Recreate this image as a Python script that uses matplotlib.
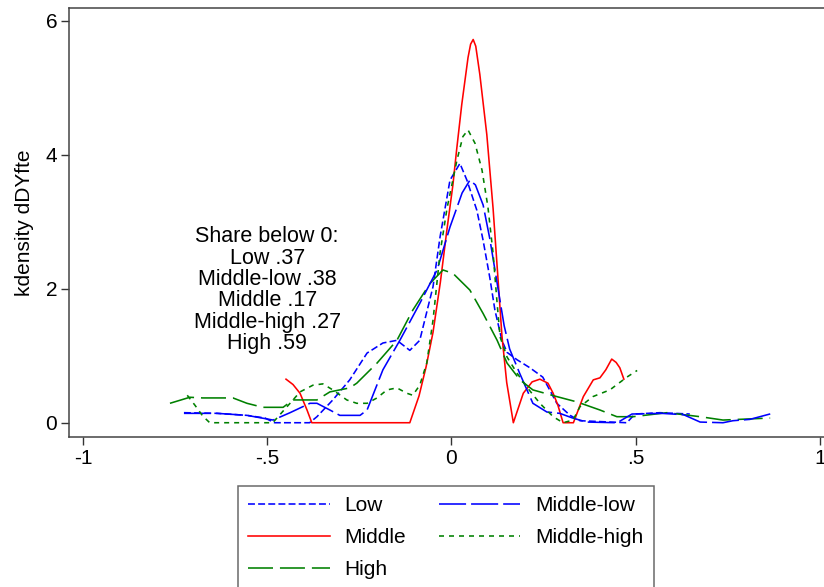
import numpy as np
import matplotlib
matplotlib.use('Agg')
import matplotlib.pyplot as plt

plt.rcParams['font.family'] = ['Liberation Sans', 'DejaVu Sans']
plt.rcParams['lines.scale_dashes'] = False

###### kernel density curves ######
low_x = [-0.726, -0.636, -0.555, -0.506, -0.48, -0.385, -0.365, -0.322, -0.276, -0.229,
         -0.186, -0.148, -0.113, -0.086, -0.05, -0.031, -0.004, 0.023, 0.042, 0.069,
         0.086, 0.104, 0.118, 0.137, 0.151, 0.178, 0.213, 0.248, 0.286, 0.322, 0.349,
         0.476, 0.498, 0.566, 0.647]
low_y = [0.15, 0.14, 0.11, 0.07, 0.0, 0.0, 0.09, 0.34, 0.64, 1.04,
         1.19, 1.23, 1.08, 1.23, 2.03, 2.77, 3.62, 3.87, 3.62, 3.17,
         2.72, 2.17, 1.68, 1.23, 1.05, 0.94, 0.82, 0.68, 0.29, 0.11, 0.03,
         0.0, 0.13, 0.15, 0.13]

midlow_x = [-0.726, -0.636, -0.555, -0.484, -0.438, -0.384, -0.365, -0.33, -0.303, -0.248,
            -0.229, -0.186, -0.14, -0.086, -0.039, -0.004, 0.029, 0.05, 0.065, 0.086,
            0.104, 0.125, 0.143, 0.158, 0.185, 0.221, 0.259, 0.294, 0.329, 0.367, 0.45,
            0.49, 0.57, 0.63, 0.675, 0.737, 0.764, 0.81, 0.878]
midlow_y = [0.14, 0.14, 0.11, 0.04, 0.15, 0.29, 0.29, 0.19, 0.11, 0.11,
            0.19, 0.79, 1.23, 1.78, 2.28, 2.92, 3.43, 3.62, 3.55, 3.25,
            2.75, 2.05, 1.45, 1.1, 0.74, 0.29, 0.16, 0.14, 0.07, 0.01, 0.0,
            0.13, 0.14, 0.12, 0.01, 0.0, 0.03, 0.05, 0.15]

mid_x = [-0.449, -0.43, -0.411, -0.392, -0.379, -0.113, -0.088, -0.069, -0.05, -0.03,
         -0.013, 0.004, 0.014, 0.028, 0.045, 0.052, 0.059, 0.066, 0.077, 0.096, 0.113, 0.127,
         0.137, 0.15, 0.168, 0.195, 0.219, 0.24, 0.262, 0.276, 0.289, 0.303,
         0.331, 0.358, 0.385, 0.403, 0.419, 0.435, 0.447, 0.457, 0.468]
mid_y = [0.65, 0.57, 0.44, 0.19, 0.0, 0.0, 0.40, 0.83, 1.35, 2.1,
         2.85, 3.55, 4.07, 4.75, 5.45, 5.65, 5.72, 5.62, 5.2, 4.3, 3.2, 2.1,
         1.3, 0.6, 0.0, 0.44, 0.61, 0.65, 0.59, 0.44, 0.26, 0.0,
         0.0, 0.39, 0.64, 0.67, 0.79, 0.95, 0.90, 0.82, 0.65]

midhigh_x = [-0.717, -0.696, -0.675, -0.656, -0.485, -0.43, -0.411, -0.376, -0.349, -0.322,
             -0.284, -0.257, -0.229, -0.202, -0.175, -0.148, -0.121, -0.105, -0.086, -0.067,
             -0.05, -0.031, -0.012, 0.015, 0.031, 0.045, 0.064, 0.083, 0.099, 0.113,
             0.124, 0.132, 0.151, 0.178, 0.205, 0.24, 0.276, 0.303, 0.33, 0.349,
             0.384, 0.43, 0.476, 0.504]
midhigh_y = [0.41, 0.26, 0.10, 0.0, 0.0, 0.34, 0.46, 0.56, 0.58, 0.49,
             0.34, 0.29, 0.29, 0.37, 0.49, 0.52, 0.44, 0.41, 0.56, 0.89,
             1.53, 2.53, 3.2, 3.92, 4.27, 4.37, 4.17, 3.77, 3.22, 2.53,
             1.78, 1.28, 0.98, 0.74, 0.53, 0.29, 0.09, 0.0, 0.04, 0.24,
             0.39, 0.49, 0.68, 0.78]

high_x = [-0.764, -0.71, -0.675, -0.593, -0.555, -0.512, -0.457, -0.43, -0.365, -0.33,
          -0.276, -0.257, -0.202, -0.148, -0.105, -0.058, -0.023, 0.004, 0.05, 0.086,
          0.124, 0.151, 0.186, 0.221, 0.286, 0.341, 0.403, 0.449, 0.493, 0.585,
          0.675, 0.737, 0.865]
high_y = [0.29, 0.38, 0.37, 0.37, 0.29, 0.23, 0.23, 0.34, 0.34, 0.46,
          0.52, 0.59, 0.89, 1.23, 1.68, 2.08, 2.28, 2.23, 1.98, 1.63,
          1.23, 0.89, 0.64, 0.49, 0.39, 0.31, 0.19, 0.09, 0.09, 0.15,
          0.09, 0.04, 0.07]

share_note = 'Share below 0:\nLow .37\nMiddle-low .38\nMiddle .17\nMiddle-high .27\nHigh .59'

fig = plt.figure(figsize=(8.24, 5.87), dpi=100)
ax = fig.add_axes([69/824, 1 - 437/587, 757/824, 429/587])

lw = 1.15
l_low, = ax.plot(low_x, low_y, color='#0000ff', lw=lw, dashes=(5, 2.3), label='Low')
l_mid, = ax.plot(mid_x, mid_y, color='#ff0000', lw=lw, label='Middle')
l_high, = ax.plot(high_x, high_y, color='#008000', lw=lw, dashes=(18, 5), label='High')
l_midlow, = ax.plot(midlow_x, midlow_y, color='#0000ff', lw=lw, dashes=(19.5, 3.6), label='Middle-low')
l_midhigh, = ax.plot(midhigh_x, midhigh_y, color='#008000', lw=lw, dashes=(3.6, 3.6), label='Middle-high')

ax.set_xlim(-1.038, 1.0166)
ax.set_ylim(-0.213, 6.19)
ax.set_xticks([-1, -0.5, 0, 0.5, 1])
ax.set_xticklabels(['-1', '-.5', '0', '.5', '1'])
ax.set_yticks([0, 2, 4, 6])
ax.set_yticklabels(['0', '2', '4', '6'])
ax.tick_params(direction='out', length=5.5, width=1, colors='#333333', labelcolor='black',
               labelsize=15, pad=3)
for s in ax.spines.values():
    s.set_color('#444444')
    s.set_linewidth(1.1)
ax.set_ylabel('kdensity dDYfte', fontsize=15, labelpad=8)

ax.text(-0.5, 1.98, share_note, ha='center', va='center', multialignment='center',
        fontsize=15.5, linespacing=1.02)

fig.legend([l_low, l_mid, l_high, l_midlow, l_midhigh],
           ['Low', 'Middle', 'High', 'Middle-low', 'Middle-high'],
           ncol=2, loc='upper left', bbox_to_anchor=(238/824, 1 - 486/587),
           fontsize=15, frameon=True, fancybox=False, edgecolor='#444444',
           handlelength=3.9, handletextpad=0.7, columnspacing=1.6,
           labelspacing=0.62, borderpad=0.5, borderaxespad=0)
fig.legends[0].get_frame().set_linewidth(1.1)

fig.savefig('out.png', dpi=100)
